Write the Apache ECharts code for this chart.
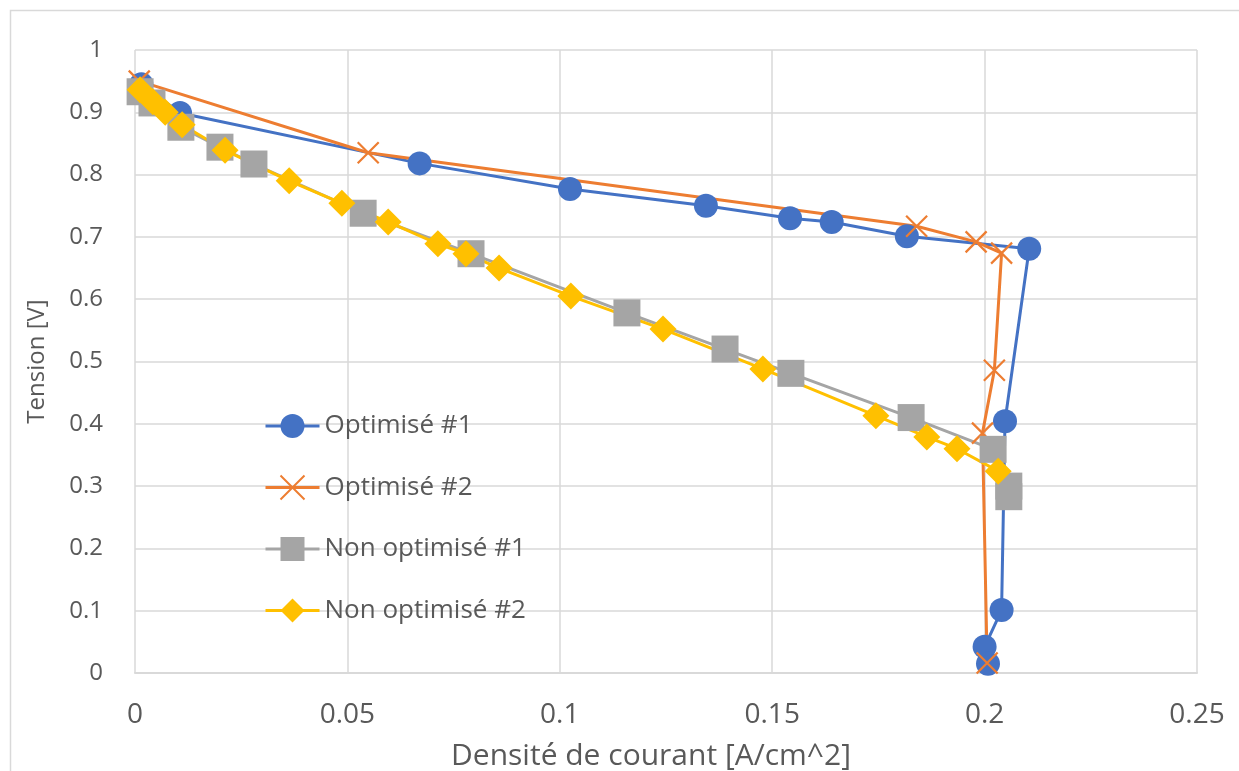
<!DOCTYPE html>
<html>
<head>
<meta charset="utf-8">
<script src="https://cdn.jsdelivr.net/npm/echarts@6/dist/echarts.min.js"></script>
<style>
  html, body { margin: 0; padding: 0; background: #ffffff; }
  #chart { width: 1239px; height: 771px; }
</style>
</head>
<body>
<div id="chart"></div>
<script>
// Polarisation curves: current density [A/cm^2] vs. cell voltage [V]
const seriesNames = ['Optimisé #1', 'Optimisé #2', 'Non optimisé #1', 'Non optimisé #2'];

const optimise1X = [0.0015, 0.0106, 0.067, 0.1024, 0.1344, 0.1542, 0.164, 0.1817, 0.2105, 0.2048, 0.204, 0.2000, 0.2008];
const optimise1Y = [0.945, 0.899, 0.818, 0.777, 0.750, 0.730, 0.724, 0.701, 0.681, 0.404, 0.101, 0.042, 0.015];

const optimise2X = [0.001, 0.0549, 0.184, 0.198, 0.204, 0.2023, 0.1995, 0.2006];
const optimise2Y = [0.950, 0.835, 0.717, 0.692, 0.674, 0.486, 0.385, 0.016];

const nonOpt1X = [0.0012, 0.004, 0.0108, 0.020, 0.028, 0.0537, 0.0791, 0.1158, 0.1389, 0.1544, 0.1827, 0.202, 0.2057, 0.2057];
const nonOpt1Y = [0.933, 0.915, 0.876, 0.844, 0.817, 0.738, 0.673, 0.578, 0.520, 0.481, 0.410, 0.359, 0.300, 0.283];

const nonOpt2X = [0.0012, 0.0042, 0.0071, 0.0111, 0.0212, 0.0363, 0.0487, 0.0596, 0.0713, 0.0779, 0.0857, 0.1026, 0.1243, 0.1478, 0.1744, 0.1864, 0.1935, 0.2032];
const nonOpt2Y = [0.936, 0.917, 0.900, 0.880, 0.839, 0.790, 0.754, 0.724, 0.689, 0.673, 0.650, 0.605, 0.552, 0.488, 0.413, 0.379, 0.360, 0.324];

const xTicks = [0, 0.05, 0.1, 0.15, 0.2, 0.25];
const yTicks = [0, 0.1, 0.2, 0.3, 0.4, 0.5, 0.6, 0.7, 0.8, 0.9, 1];

const pairs = (xs, ys) => xs.map((x, i) => [x, ys[i]]);

const FONT = '"Open Sans", "Noto Sans", sans-serif';
const TEXT = '#595959';
const GRID = '#d9d9d9';

const chart = echarts.init(document.getElementById('chart'), null, { renderer: 'canvas' });

// X-shaped marker, drawn as a stroked path
const crossPath = 'path://M0,0L10,10M10,0L0,10';

chart.setOption({
  animation: false,
  backgroundColor: '#ffffff',
  graphic: [{
    type: 'rect',
    shape: { x: 10.5, y: 10.5, width: 1240, height: 790 },
    style: { fill: 'none', stroke: GRID, lineWidth: 1.5 },
    silent: true,
    z: -10
  }],
  grid: { left: 135, right: 42, top: 50, bottom: 98, containLabel: false, outerBoundsMode: 'none' },
  xAxis: {
    type: 'value',
    min: 0, max: 0.25, interval: 0.05,
    name: 'Densité de courant [A/cm^2]',
    nameLocation: 'middle',
    nameGap: 68,
    nameTextStyle: { fontFamily: FONT, fontSize: 30, color: TEXT, padding: [0, 30, 0, 0] },
    axisLine: { show: true, lineStyle: { color: GRID, width: 2 } },
    axisTick: { show: false },
    axisLabel: {
      margin: 28, fontFamily: FONT, fontSize: 28, color: TEXT,
      formatter: v => xTicks.includes(+v.toFixed(2)) ? String(+v.toFixed(2)) : ''
    },
    splitLine: { show: true, lineStyle: { color: GRID, width: 1.5 } }
  },
  yAxis: {
    type: 'value',
    min: 0, max: 1, interval: 0.1,
    name: 'Tension [V]',
    nameLocation: 'middle',
    nameGap: 86,
    nameRotate: 90,
    nameTextStyle: { fontFamily: FONT, fontSize: 24, color: TEXT },
    axisLine: { show: false },
    axisTick: { show: false },
    axisLabel: {
      margin: 32, fontFamily: FONT, fontSize: 24, color: TEXT,
      formatter: v => yTicks.includes(+v.toFixed(1)) ? String(+v.toFixed(1)) : ''
    },
    splitLine: { show: true, lineStyle: { color: GRID, width: 1.5 } }
  },
  legend: {
    orient: 'vertical',
    left: 264,
    top: 412,
    padding: 0,
    itemWidth: 54,
    itemHeight: 30,
    itemGap: 33.5,
    data: seriesNames,
    lineStyle: { width: 3 },
    textStyle: { fontFamily: FONT, fontSize: 26, lineHeight: 28, color: TEXT }
  },
  series: [
    {
      name: seriesNames[0], type: 'line',
      data: pairs(optimise1X, optimise1Y),
      symbol: 'circle', symbolSize: 24,
      lineStyle: { color: '#4472C4', width: 3 },
      itemStyle: { color: '#4472C4' }
    },
    {
      name: seriesNames[1], type: 'line',
      data: pairs(optimise2X, optimise2Y),
      symbol: crossPath, symbolSize: 21,
      lineStyle: { color: '#ED7D31', width: 3 },
      itemStyle: { color: '#ED7D31', borderColor: '#ED7D31', borderWidth: 2.2 }
    },
    {
      name: seriesNames[2], type: 'line',
      data: pairs(nonOpt1X, nonOpt1Y),
      symbol: 'rect', symbolSize: 27,
      lineStyle: { color: '#A5A5A5', width: 3 },
      itemStyle: { color: '#A5A5A5' }
    },
    {
      name: seriesNames[3], type: 'line',
      data: pairs(nonOpt2X, nonOpt2Y),
      symbol: 'diamond', symbolSize: 27,
      lineStyle: { color: '#FFC000', width: 3 },
      itemStyle: { color: '#FFC000' }
    }
  ]
});
</script>
</body>
</html>
